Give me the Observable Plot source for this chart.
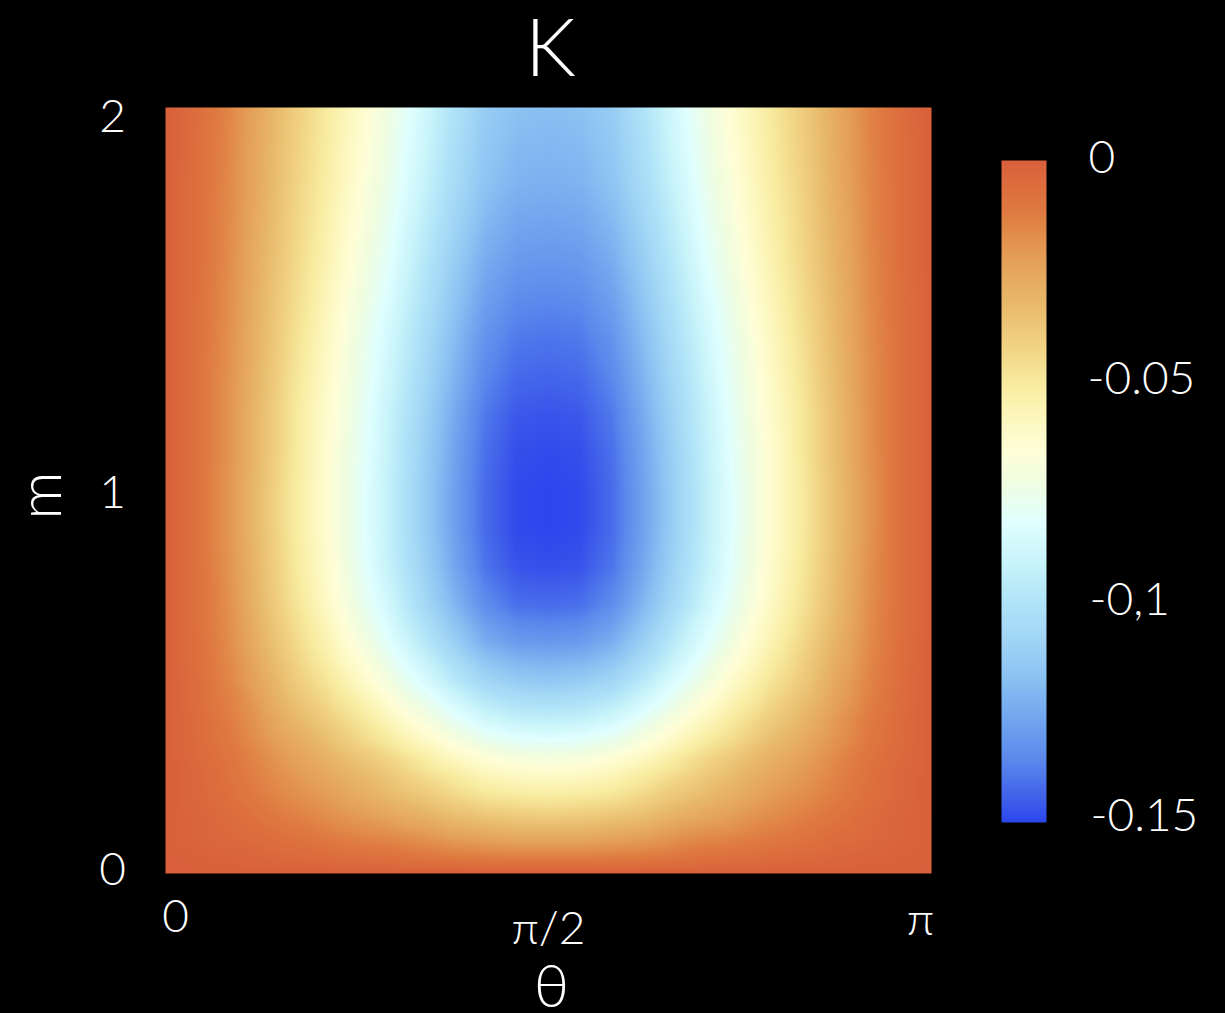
<!DOCTYPE html>
<html>
<head>
<meta charset="utf-8">
<script src="https://cdn.jsdelivr.net/npm/d3@7"></script>
<script src="https://cdn.jsdelivr.net/npm/@observablehq/plot@0.6"></script>
<style>
  html, body { margin: 0; padding: 0; background: #000; }
  #wrap { position: relative; width: 1225px; height: 1013px; background: #000; overflow: hidden; }
  #main { position: absolute; left: 0; top: 0; }
  #bar { position: absolute; left: 1001px; top: 110px; }
  svg text { font-family: Lato, "Open Sans", sans-serif; font-weight: 300; }
</style>
</head>
<body>
<div id="wrap"><div id="main"></div><div id="bar"></div></div>
<script>
// grid positions (θ in degrees, m)
const thetaDeg = [0, 7.5, 15, 22.5, 30, 37.5, 45, 52.5, 60, 67.5, 75, 82.5, 90, 97.5, 105, 112.5, 120, 127.5, 135, 142.5, 150, 157.5, 165, 172.5, 180];
const mRows = [0, 0.05, 0.1, 0.15, 0.2, 0.25, 0.3, 0.35, 0.4, 0.5, 0.6, 0.7, 0.8, 0.9, 1.0, 1.1, 1.2, 1.4, 1.6, 1.8, 2.0];
// K values, in units of 0.001 (rows follow mRows, columns follow thetaDeg)
const kMilli = [
  [0,0,0,0,0,0,0,0,0,0,0,0,0,0,0,0,0,0,0,0,0,0,0,0,0],
  [0,-1,-2,-3,-5,-6,-8,-9,-11,-13,-14,-15,-15,-15,-14,-13,-11,-9,-8,-6,-5,-3,-2,-1,0],
  [0,-2,-4,-6,-9,-12,-15,-17,-20,-24,-26,-28,-28,-28,-26,-24,-20,-17,-15,-12,-9,-6,-4,-2,0],
  [0,-2,-5,-9,-13,-17,-21,-25,-29,-34,-37,-39,-40,-39,-37,-34,-29,-25,-21,-17,-13,-9,-5,-2,0],
  [0,-3,-7,-12,-17,-21,-27,-32,-37,-43,-48,-50,-51,-50,-48,-43,-37,-32,-27,-21,-17,-12,-7,-3,0],
  [0,-3,-8,-14,-20,-25,-31,-37,-44,-50,-56,-59,-60,-59,-56,-50,-44,-37,-31,-25,-20,-14,-8,-3,0],
  [0,-4,-9,-16,-23,-29,-36,-43,-51,-59,-65,-69,-70,-69,-65,-59,-51,-43,-36,-29,-23,-16,-9,-4,0],
  [0,-5,-11,-19,-27,-34,-43,-51,-60,-69,-77,-81,-82,-81,-77,-69,-60,-51,-43,-34,-27,-19,-11,-5,0],
  [0,-5,-12,-21,-31,-39,-48,-58,-68,-78,-87,-92,-93,-92,-87,-78,-68,-58,-48,-39,-31,-21,-12,-5,0],
  [0,-6,-15,-26,-38,-48,-59,-71,-83,-96,-107,-112,-114,-112,-107,-96,-83,-71,-59,-48,-38,-26,-15,-6,0],
  [0,-7,-17,-30,-43,-55,-68,-81,-95,-110,-123,-129,-130,-129,-123,-110,-95,-81,-68,-55,-43,-30,-17,-7,0],
  [0,-8,-18,-33,-47,-60,-74,-88,-104,-120,-134,-141,-142,-141,-134,-120,-104,-88,-74,-60,-47,-33,-18,-8,0],
  [0,-8,-19,-34,-49,-62,-77,-92,-108,-125,-140,-147,-148,-147,-140,-125,-108,-92,-77,-62,-49,-34,-19,-8,0],
  [0,-8,-20,-35,-50,-63,-78,-93,-110,-127,-142,-149,-150,-149,-142,-127,-110,-93,-78,-63,-50,-35,-20,-8,0],
  [0,-8,-20,-35,-50,-63,-78,-93,-110,-127,-142,-149,-150,-149,-142,-127,-110,-93,-78,-63,-50,-35,-20,-8,0],
  [0,-8,-19,-34,-49,-63,-77,-92,-109,-126,-141,-148,-149,-148,-141,-126,-109,-92,-77,-63,-49,-34,-19,-8,0],
  [0,-8,-19,-34,-49,-62,-76,-91,-107,-124,-139,-146,-147,-146,-139,-124,-107,-91,-76,-62,-49,-34,-19,-8,0],
  [0,-8,-18,-32,-46,-59,-73,-87,-102,-118,-132,-139,-140,-139,-132,-118,-102,-87,-73,-59,-46,-32,-18,-8,0],
  [0,-7,-17,-30,-43,-55,-68,-81,-96,-111,-124,-130,-131,-130,-124,-111,-96,-81,-68,-55,-43,-30,-17,-7,0],
  [0,-7,-16,-28,-41,-52,-64,-76,-90,-104,-116,-122,-123,-122,-116,-104,-90,-76,-64,-52,-41,-28,-16,-7,0],
  [0,-6,-15,-27,-39,-50,-61,-73,-86,-100,-112,-117,-118,-117,-112,-100,-86,-73,-61,-50,-39,-27,-15,-6,0]
];
// colour map stops (K value -> colour)
const colorStops = [-0.150, -0.145, -0.136, -0.127, -0.118, -0.109, -0.100, -0.091, -0.082, -0.0725, -0.066, -0.059, -0.051, -0.041, -0.032, -0.0227, -0.0114, 0];
const colorRange = ["#2b46ec", "#3f5eea", "#5a88ec", "#70a4ee", "#88c0f2", "#a0d4f5", "#b0e4f8", "#c8f4fa", "#e0ffff", "#f0fde0", "#fefed8", "#fdf8c0", "#f8eca0", "#f0d080", "#e8b86a", "#e4a058", "#df7a40", "#d9603a"];
// ticks
const xTicks = [0, Math.PI / 2, Math.PI];
const xTickLabels = ["0", "π/2", "π"];
const yTicks = [0, 1, 2];
const yTickLabels = ["0", "1", "2"];
const barTicks = [0, -0.05, -0.1, -0.15];
const barTickLabels = ["0", "-0.05", "-0,1", "-0.15"];
const titleText = "K";
const xLabel = "θ";
const yLabel = "m";

const table = [];
mRows.forEach((m, i) => thetaDeg.forEach((t, j) => table.push({theta: t * Math.PI / 180, m, K: kMilli[i][j] / 1000})));

const colorScale = {type: "linear", domain: colorStops, range: colorRange, interpolate: "rgb", clamp: true};
const fs = 46;

const xTickMarks = xTicks.map((t, i) => Plot.text([t], {
  x: d => d, text: [xTickLabels[i]], frameAnchor: "bottom", textAnchor: "middle", lineAnchor: "middle",
  dx: [10, 0, -11][i], dy: [44, 56, 47][i], fontSize: fs, fill: "white"
}));
const yTickMarks = yTicks.map((t, i) => Plot.text([t], {
  y: d => d, text: [yTickLabels[i]], frameAnchor: "left", textAnchor: "middle", lineAnchor: "middle",
  dx: -53, dy: [-3, 3, 10][i], fontSize: fs, fill: "white"
}));

const main = Plot.plot({
  width: 960, height: 1013,
  marginLeft: 165, marginRight: 29, marginTop: 107, marginBottom: 140,
  style: {background: "black", color: "white"},
  x: {domain: [0, Math.PI], axis: null},
  y: {domain: [0, 2], axis: null},
  color: colorScale,
  marks: [
    Plot.raster(table, {x: "theta", y: "m", fill: "K", interpolate: "barycentric", x1: 0, x2: Math.PI, y1: 0, y2: 2}),
    ...xTickMarks,
    ...yTickMarks,
    Plot.text([titleText], {text: d => d, frameAnchor: "top", textAnchor: "middle", lineAnchor: "middle", dx: 2, dy: -57, fontSize: 80, fill: "white"}),
    Plot.text([xLabel], {text: d => d, frameAnchor: "bottom", textAnchor: "middle", lineAnchor: "middle", dx: 3, dy: 114, fontSize: 60, fill: "white"}),
    Plot.text([yLabel], {text: d => d, frameAnchor: "left", textAnchor: "middle", lineAnchor: "middle", dx: -124, dy: 5, rotate: -90, fontSize: 60, fill: "white"})
  ]
});
document.getElementById("main").appendChild(main);

const bar = Plot.plot({
  width: 224, height: 762,
  marginLeft: 0, marginRight: 179, marginTop: 50, marginBottom: 50,
  style: {background: "black", color: "white"},
  x: {domain: [0, 1], axis: null},
  y: {domain: [-0.15, 0], axis: null},
  color: colorScale,
  marks: [
    Plot.raster({fill: (x, y) => y, x1: 0, x2: 1, y1: -0.15, y2: 0}),
    ...barTicks.map((t, i) => Plot.text([t], {y: d => d, text: [barTickLabels[i]], frameAnchor: "right", textAnchor: "start", lineAnchor: "middle", dx: [42, 41, 43, 44][i], dy: [-2, -2, -2, -6][i], fontSize: fs, fill: "white"}))
  ]
});
document.getElementById("bar").appendChild(bar);
</script>
</body>
</html>
